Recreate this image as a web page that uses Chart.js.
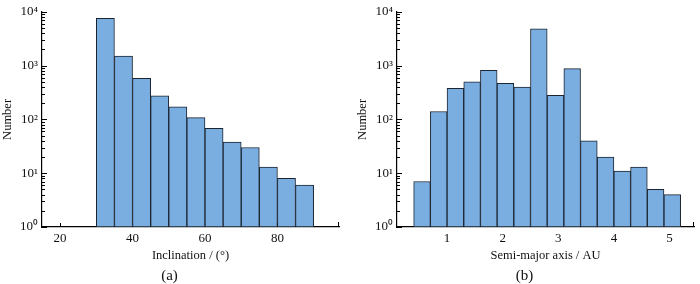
<!DOCTYPE html>
<html>
<head>
<meta charset="utf-8">
<script src="https://cdn.jsdelivr.net/npm/chart.js@4.4.1/dist/chart.umd.min.js"></script>
<style>
  html, body { margin: 0; padding: 0; background: #fff; }
  .row { display: flex; width: 700px; height: 284px; }
  .cell { width: 350px; height: 284px; }
</style>
</head>
<body>
<div class="row">
  <div class="cell"><canvas id="incChart" width="350" height="284"></canvas></div>
  <div class="cell"><canvas id="smaChart" width="350" height="284"></canvas></div>
</div>
<script>
// inclination histogram (5 degree bins)
const incBins = [32.5, 37.5, 42.5, 47.5, 52.5, 57.5, 62.5, 67.5, 72.5, 77.5, 82.5, 87.5];
const incCounts = [7600, 1500, 580, 275, 172, 108, 68, 38, 30, 13, 8, 6];
const incTicks = [20, 40, 60, 80];

// semi-major axis histogram (0.3 AU bins)
const smaBins = [0.55, 0.85, 1.15, 1.45, 1.75, 2.05, 2.35, 2.65, 2.95, 3.25, 3.55, 3.85, 4.15, 4.45, 4.75, 5.05];
const smaCounts = [7, 140, 380, 500, 820, 470, 400, 4800, 280, 880, 40, 20, 11, 13, 5, 4];
const smaTicks = [1, 2, 3, 4, 5];

const yTicks = [1, 10, 100, 1000, 10000];
const yLabels = ['10\u2070', '10\u00b9', '10\u00b2', '10\u00b3', '10\u2074'];

Chart.defaults.font.family = '"Liberation Serif", "Times New Roman", serif';
Chart.defaults.color = '#111';

// inward tick marks, minor ones on the log axis, plus the closing tick at the end of x
const tickMarks = {
    id: 'tickMarks',
    beforeDatasetsDraw(chart, args, opts) {
        const { ctx, scales: { x, y } } = chart;
        const x0 = x.left, y0 = y.bottom;
        ctx.save();
        ctx.strokeStyle = '#000';
        ctx.lineWidth = 1;
        ctx.beginPath();
        yTicks.forEach(function(v, i) {
            const py = Math.round(y.getPixelForValue(v)) + 0.5;
            ctx.moveTo(x0, py); ctx.lineTo(x0 + 5, py);
            if (i < yTicks.length - 1) {
                for (let m = 2; m < 10; m++) {
                    const pm = Math.round(y.getPixelForValue(v * m)) + 0.5;
                    ctx.moveTo(x0, pm); ctx.lineTo(x0 + 3, pm);
                }
            }
        });
        opts.ticks.forEach(function(v) {
            const px = Math.round(x.getPixelForValue(v)) + 0.5;
            ctx.moveTo(px, y0); ctx.lineTo(px, y0 - 4);
        });
        const pr = Math.round(x.right) - 0.5;
        ctx.moveTo(pr, y0); ctx.lineTo(pr, y0 - 5);
        ctx.stroke();
        ctx.restore();
    }
};

function makeHist(id, bins, counts, xMin, xMax, xTicks, xTitle, caption, yWidth, padLeft, padRight) {
    const points = bins.map((b, i) => ({ x: b, y: counts[i] }));
    return new Chart(document.getElementById(id).getContext('2d'), {
        type: 'bar',
        data: {
            datasets: [{
                data: points,
                backgroundColor: '#7aade0',
                borderColor: '#1b2430',
                borderWidth: 1,
                borderSkipped: false,
                barPercentage: 1,
                categoryPercentage: 1
            }]
        },
        options: {
            responsive: false,
            animation: false,
            layout: { padding: { top: 9, left: padLeft, right: padRight, bottom: 0 } },
            plugins: {
                legend: { display: false },
                tooltip: { enabled: false },
                title: {
                    display: true,
                    text: caption,
                    position: 'bottom',
                    font: { size: 15, weight: 'normal', lineHeight: 1 },
                    color: '#111',
                    padding: { top: 0, bottom: 0 }
                },
                tickMarks: { ticks: xTicks }
            },
            scales: {
                x: {
                    type: 'linear',
                    min: xMin,
                    max: xMax,
                    offset: false,
                    grid: { display: false, drawTicks: false, offset: false },
                    border: { display: true, color: '#000', width: 1.2 },
                    afterBuildTicks: function(scale) {
                        scale.ticks = xTicks.map(v => ({ value: v }));
                    },
                    afterFit: function(scale) { scale.height = 42; },
                    ticks: {
                        font: { size: 13 },
                        padding: 4,
                        maxRotation: 0,
                        callback: v => String(v)
                    },
                    title: {
                        display: true,
                        text: xTitle,
                        font: { size: 12.5 },
                        padding: { top: 0, bottom: 5.5 }
                    }
                },
                y: {
                    type: 'logarithmic',
                    min: 1,
                    max: 10000,
                    grid: { display: false, drawTicks: false },
                    border: { display: true, color: '#000', width: 1.2 },
                    afterBuildTicks: function(scale) {
                        scale.ticks = yTicks.map(v => ({ value: v }));
                    },
                    afterFit: function(scale) { scale.width = yWidth; },
                    ticks: {
                        font: { size: 13 },
                        padding: 4,
                        callback: function(v) {
                            const i = yTicks.indexOf(v);
                            return i >= 0 ? yLabels[i] : '';
                        }
                    },
                    title: {
                        display: true,
                        text: 'Number',
                        font: { size: 12.5 },
                        padding: { top: 0, bottom: 0 }
                    }
                }
            }
        },
        plugins: [tickMarks]
    });
}

makeHist('incChart', incBins, incCounts, 15, 97, incTicks, 'Inclination / (\u00b0)', '(a)', 42, 0, 11);
makeHist('smaChart', smaBins, smaCounts, 0.1, 5.44, smaTicks, 'Semi-major axis / AU', '(b)', 42, 5, 6);
</script>
</body>
</html>
